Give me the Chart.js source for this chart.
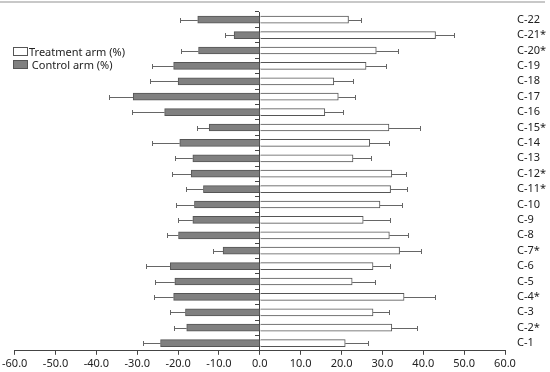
<!DOCTYPE html>
<html>
<head>
<meta charset="utf-8">
<script src="https://cdn.jsdelivr.net/npm/chart.js@4.4.1/dist/chart.umd.min.js"></script>
<style>
  html, body { margin: 0; padding: 0; background: #fff; }
  #wrap { position: relative; width: 550px; height: 372px; }
  #topline { position: absolute; left: 0; top: 1px; width: 545px; height: 2px; background: #c8c8c8; }
  #legend { position: absolute; left: 13px; top: 45px; font: 11px "Noto Sans", sans-serif; color: #222; }
  #legend div { display: flex; align-items: center; height: 13px; }
  #legend span.box { display: inline-block; width: 13px; height: 7px; border: 1px solid #555; margin-right: 1px; }
</style>
</head>
<body>
<div id="wrap">
  <canvas id="c" width="550" height="372"></canvas>
  <div id="topline"></div>
  <div id="legend">
    <div><span class="box" style="background:#fff"></span>Treatment arm (%)</div>
    <div><span class="box" style="background:#808080"></span>&nbsp;Control arm (%)</div>
  </div>
</div>
<script>
// categories C-1 .. C-22 (drawn bottom to top)
const categories = ["C-1", "C-2*", "C-3", "C-4*", "C-5", "C-6", "C-7*", "C-8", "C-9", "C-10", "C-11*",
  "C-12*", "C-13", "C-14", "C-15*", "C-16", "C-17", "C-18", "C-19", "C-20*", "C-21*", "C-22"];

const treatment = [20.9, 32.3, 27.7, 35.3, 22.6, 27.7, 34.2, 31.7, 25.3, 29.4, 32.0,
  32.3, 22.8, 26.9, 31.6, 15.9, 19.2, 18.1, 26.0, 28.5, 43.0, 21.7];
const treatmentErr = [5.6, 6.2, 4.0, 7.5, 5.6, 4.2, 5.2, 4.5, 6.6, 5.5, 4.1,
  3.5, 4.5, 4.7, 7.6, 4.5, 4.0, 4.7, 4.8, 5.3, 4.6, 3.1];

const control = [-24.3, -17.9, -18.2, -21.1, -20.8, -21.9, -9.0, -19.9, -16.4, -16.0, -13.8,
  -16.8, -16.4, -19.6, -12.4, -23.3, -31.0, -20.0, -21.1, -15.0, -6.3, -15.2];
const controlErr = [4.4, 3.0, 3.8, 4.9, 4.9, 6.0, 2.5, 2.9, 3.7, 4.4, 4.3,
  4.7, 4.3, 6.8, 3.0, 8.1, 6.0, 7.0, 5.2, 4.3, 2.2, 4.4];

const xTicks = [-60, -50, -40, -30, -20, -10, 0, 10, 20, 30, 40, 50, 60];

const font = { family: "'Noto Sans', sans-serif", size: 11 };

// error bars drawn from the bar end outwards
const errorBars = {
  id: "errorBars",
  afterDatasetsDraw(chart) {
    const ctx = chart.ctx;
    const xs = chart.scales.x;
    ctx.save();
    ctx.strokeStyle = "#666";
    ctx.lineWidth = 1;
    chart.data.datasets.forEach((ds, di) => {
      const meta = chart.getDatasetMeta(di);
      meta.data.forEach((bar, i) => {
        const v = ds.data[i];
        const end = v < 0 ? v - ds.errors[i] : v + ds.errors[i];
        const x0 = bar.x;
        const x1 = Math.round(xs.getPixelForValue(end)) + 0.5;
        const y = Math.round(bar.y) + 0.5;
        ctx.beginPath();
        ctx.moveTo(x0, y);
        ctx.lineTo(x1, y);
        ctx.moveTo(x1, y - 2.5);
        ctx.lineTo(x1, y + 2.5);
        ctx.stroke();
      });
    });
    ctx.restore();
  }
};

new Chart(document.getElementById("c"), {
  type: "bar",
  data: {
    labels: categories,
    datasets: [
      {
        label: "Treatment arm (%)",
        data: treatment,
        errors: treatmentErr,
        backgroundColor: "#ffffff",
        borderColor: "#555",
        borderWidth: 1,
        barThickness: 7
      },
      {
        label: "Control arm (%)",
        data: control,
        errors: controlErr,
        backgroundColor: "#808080",
        borderColor: "#555",
        borderWidth: 1,
        barThickness: 7
      }
    ]
  },
  options: {
    indexAxis: "y",
    responsive: false,
    animation: false,
    layout: { padding: { top: 12, left: 4, right: 0, bottom: 0 } },
    plugins: { legend: { display: false }, tooltip: { enabled: false } },
    scales: {
      x: {
        stacked: true,
        min: -60,
        max: 60,
        afterBuildTicks: (s) => { s.ticks = xTicks.map(v => ({ value: v })); },
        ticks: { font: font, color: "#222", padding: 2, callback: (v) => Number(v).toFixed(1), maxRotation: 0 },
        grid: { drawOnChartArea: false, tickLength: 4, color: "#444" },
        border: { color: "#444" }
      },
      y: {
        stacked: true,
        reverse: true,
        position: "right",
        ticks: { font: { family: font.family, size: 11 }, color: "#222", padding: 12, crossAlign: "near", autoSkip: false },
        grid: { display: false, tickLength: 0 },
        border: { display: false },
        afterFit: (s) => { s.width = 45; s.paddingTop = 0; s.paddingBottom = 0; }
      },
      y2: {
        type: "category",
        axis: "y",
        labels: categories,
        reverse: true,
        offset: true,
        position: { x: 0 },
        ticks: { display: false },
        grid: { drawOnChartArea: false, tickLength: 4, color: "#444", offset: true },
        border: { color: "#444" }
      }
    }
  },
  plugins: [errorBars]
});
</script>
</body>
</html>
